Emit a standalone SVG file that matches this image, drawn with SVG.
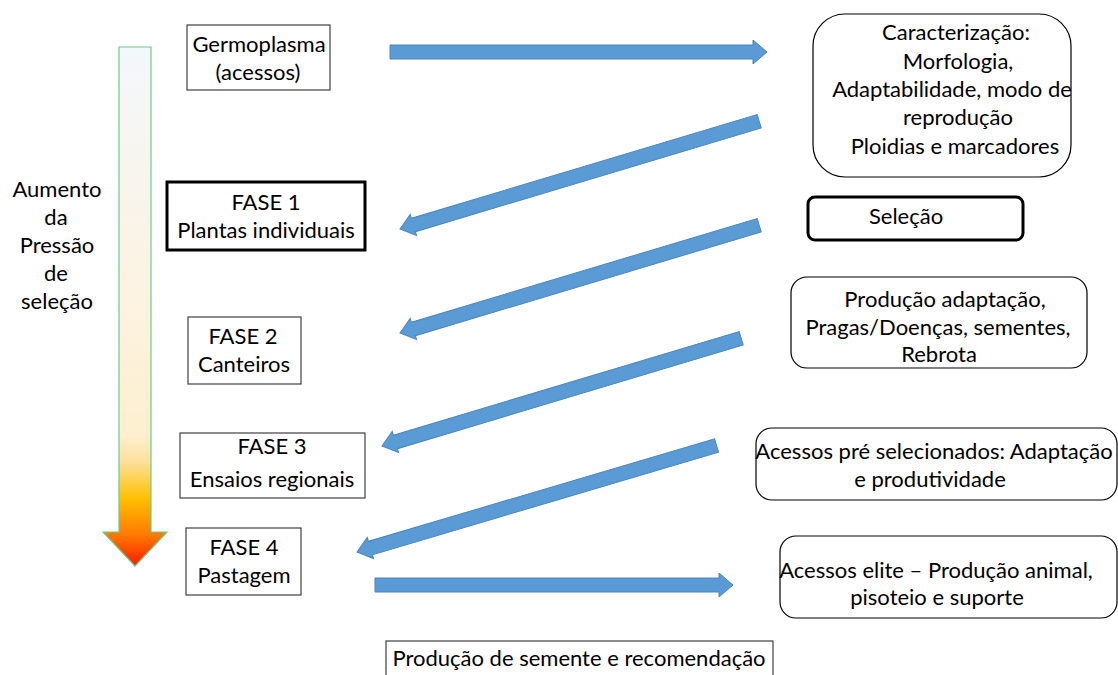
<svg xmlns="http://www.w3.org/2000/svg" width="1118" height="675" viewBox="0 0 1118 675">
<defs>
<linearGradient id="press" x1="0" y1="47" x2="0" y2="566" gradientUnits="userSpaceOnUse">
<stop offset="0" stop-color="#F3F7FB"/>
<stop offset="0.45" stop-color="#FCF3E3"/>
<stop offset="0.75" stop-color="#FDEFCF"/>
<stop offset="0.8" stop-color="#FDE09A"/>
<stop offset="0.87" stop-color="#FFC000"/>
<stop offset="0.94" stop-color="#FF7A00"/>
<stop offset="1" stop-color="#FF1A00"/>
</linearGradient>
</defs>
<style>
text{font-family:Lato,"Liberation Sans",sans-serif;font-size:22px;fill:#000;text-anchor:middle}
.box{fill:#fff;stroke:#404040;stroke-width:1.2}
.thick{fill:#fff;stroke:#000;stroke-width:3}
.rbox{fill:#fff;stroke:#000;stroke-width:1.2}
.arr{fill:#5B9BD5;stroke:#4A86BE;stroke-width:1}
</style>

<g id="pressure">
<path d="M119,47 L151,47 L151,532 L167,532 L135,566 L103,532 L119,532 Z" fill="url(#press)" stroke="#6CCB8A" stroke-width="1.2"/>
<text x="57" y="197">Aumento</text>
<text x="56" y="225">da</text>
<text x="57" y="253">Pressão</text>
<text x="56" y="281">de</text>
<text x="57" y="309">seleção</text>
</g>

<g id="connectors">
<path class="arr" d="M390,45 L753,45 L753,40 L767,52 L753,64 L753,59 L390,59 Z"/>
<g transform="translate(400,229) rotate(-16.7)"><path class="arr" d="M0,0 L14,-11 L14,-7 L375,-7 L375,7 L14,7 L14,11 Z"/></g>
<g transform="translate(400,333) rotate(-16.7)"><path class="arr" d="M0,0 L14,-11 L14,-7 L375,-7 L375,7 L14,7 L14,11 Z"/></g>
<g transform="translate(382,446) rotate(-16.7)"><path class="arr" d="M0,0 L14,-11 L14,-7 L375,-7 L375,7 L14,7 L14,11 Z"/></g>
<g transform="translate(357,552) rotate(-16.5)"><path class="arr" d="M0,0 L14,-11 L14,-7 L375,-7 L375,7 L14,7 L14,11 Z"/></g>
<path class="arr" d="M375,578 L719,578 L719,573 L733,585 L719,597 L719,592 L375,592 Z"/>
</g>

<g id="germoplasma">
<rect class="box" x="187" y="25" width="143" height="65"/>
<text x="259" y="52">Germoplasma</text>
<text x="258" y="80">(acessos)</text>
</g>

<g id="fase1">
<rect class="thick" x="167" y="182" width="198" height="68"/>
<text x="266" y="210">FASE 1</text>
<text x="266" y="238">Plantas individuais</text>
</g>

<g id="fase2">
<rect class="box" x="188" y="317" width="113" height="67"/>
<text x="243" y="344">FASE 2</text>
<text x="244" y="372">Canteiros</text>
</g>

<g id="fase3">
<rect class="box" x="180" y="433" width="185" height="65"/>
<text x="272" y="454">FASE 3</text>
<text x="272" y="487">Ensaios regionais</text>
</g>

<g id="fase4">
<rect class="box" x="186" y="528" width="115" height="67"/>
<text x="244" y="555">FASE 4</text>
<text x="244" y="583">Pastagem</text>
</g>

<g id="producao-semente">
<rect class="box" x="386" y="641" width="387" height="40"/>
<text x="579" y="666">Produção de semente e recomendação</text>
</g>

<g id="caracterizacao">
<rect class="rbox" x="813" y="14" width="258" height="163" rx="32"/>
<text x="956" y="40">Caracterização:</text>
<text x="958" y="69">Morfologia,</text>
<text x="952" y="97">Adaptabilidade, modo de</text>
<text x="958" y="125">reprodução</text>
<text x="955" y="154">Ploidias e marcadores</text>
</g>

<g id="selecao">
<rect class="thick" x="808" y="197" width="215" height="43" rx="7"/>
<text x="906" y="224">Seleção</text>
</g>

<g id="producao-adaptacao">
<rect class="rbox" x="791" y="277" width="296" height="91" rx="16"/>
<text x="945" y="307">Produção adaptação,</text>
<text x="938" y="335">Pragas/Doenças, sementes,</text>
<text x="939" y="362">Rebrota</text>
</g>

<g id="pre-selecionados">
<rect class="rbox" x="756" y="428" width="361" height="72" rx="16"/>
<text x="934" y="459">Acessos pré selecionados: Adaptação</text>
<text x="930" y="487">e produtividade</text>
</g>

<g id="elite">
<rect class="rbox" x="780" y="536" width="337" height="82" rx="16"/>
<text x="936" y="578">Acessos elite – Produção animal,</text>
<text x="937" y="605">pisoteio e suporte</text>
</g>
</svg>
